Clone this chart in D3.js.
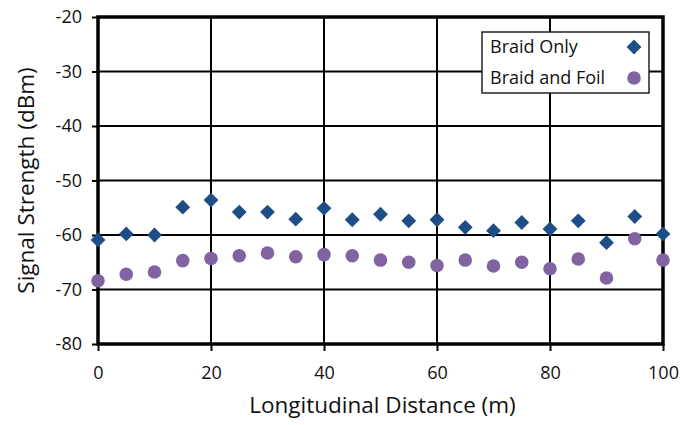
<!DOCTYPE html>
<html>
<head>
<meta charset="utf-8">
<script src="https://cdn.jsdelivr.net/npm/d3@7"></script>
<style>
  body { margin: 0; background: #fff; }
  svg { display: block; font-family: "Open Sans", "Liberation Sans", sans-serif; }
</style>
</head>
<body>
<div id="chart"></div>
<script>
// distances along the cable (m)
const distance = [0, 5, 10, 15, 20, 25, 30, 35, 40, 45, 50, 55, 60, 65, 70, 75, 80, 85, 90, 95, 100];
const braidOnly = [-60.9, -59.8, -60.0, -54.9, -53.6, -55.8, -55.8, -57.1, -55.1, -57.2, -56.2,
                   -57.4, -57.2, -58.6, -59.2, -57.7, -58.9, -57.4, -61.4, -56.6, -59.8];
const braidFoil = [-68.4, -67.2, -66.8, -64.7, -64.3, -63.8, -63.3, -64.0, -63.6, -63.8, -64.6,
                   -65.0, -65.6, -64.6, -65.7, -65.0, -66.2, -64.4, -67.9, -60.7, -64.6];
const xTicks = [0, 20, 40, 60, 80, 100];
const yTicks = [-80, -70, -60, -50, -40, -30, -20];
const seriesNames = ['Braid Only', 'Braid and Foil'];

const width = 696, height = 425;
const margin = {top: 17, right: 33, bottom: 81, left: 98};
const colors = {blue: '#1f4e86', purple: '#8064a2'};
const ink = '#111';

const svg = d3.select('#chart').append('svg')
    .attr('width', width)
    .attr('height', height);

// the picture is cut just past the last tick label
svg.append('clipPath').attr('id', 'cut')
    .append('rect').attr('x', 0).attr('y', 0).attr('width', 679).attr('height', height);

const root = svg.append('g').attr('clip-path', 'url(#cut)');

const x = d3.scaleLinear().domain([0, 100]).range([margin.left, width - margin.right]);
const y = d3.scaleLinear().domain([-80, -20]).range([height - margin.bottom, margin.top]);

// grid
root.append('g').selectAll('line.v')
    .data(xTicks)
    .join('line')
    .attr('x1', d => x(d)).attr('x2', d => x(d))
    .attr('y1', y(-20)).attr('y2', y(-80))
    .attr('stroke', '#000').attr('stroke-width', 2);

root.append('g').selectAll('line.h')
    .data(yTicks)
    .join('line')
    .attr('x1', x(0)).attr('x2', x(100))
    .attr('y1', d => y(d)).attr('y2', d => y(d))
    .attr('stroke', '#000').attr('stroke-width', 2);

// axes (plain hyphen for the minus, like the original)
const yAxis = root.append('g')
    .attr('transform', `translate(${x(0)},0)`)
    .call(d3.axisLeft(y).tickValues(yTicks).tickFormat(d => String(d)).tickSize(6).tickPadding(10));
const xAxis = root.append('g')
    .attr('transform', `translate(0,${y(-80)})`)
    .call(d3.axisBottom(x).tickValues(xTicks).tickFormat(d => String(d)).tickSize(7).tickPadding(15));

[xAxis, yAxis].forEach(a => {
    a.select('.domain').remove();
    a.selectAll('.tick line').attr('stroke', '#000').attr('stroke-width', 2);
    a.selectAll('.tick text')
        .attr('fill', ink)
        .style('font-size', '18px')
        .style('font-family', '"Open Sans", sans-serif');
});

// plot border
root.append('rect')
    .attr('x', x(0)).attr('y', y(-20))
    .attr('width', x(100) - x(0)).attr('height', y(-80) - y(-20))
    .attr('fill', 'none').attr('stroke', '#000').attr('stroke-width', 3.5);

// markers
const diamond = d3.symbol().type(d3.symbolSquare).size(110);
root.append('g').selectAll('path')
    .data(distance.map((d, i) => ({d, v: braidOnly[i]})))
    .join('path')
    .attr('d', diamond)
    .attr('transform', p => `translate(${x(p.d)},${y(p.v)}) rotate(45)`)
    .attr('fill', colors.blue);

root.append('g').selectAll('circle')
    .data(distance.map((d, i) => ({d, v: braidFoil[i]})))
    .join('circle')
    .attr('cx', p => x(p.d))
    .attr('cy', p => y(p.v))
    .attr('r', 6.8)
    .attr('fill', colors.purple);

// axis titles
root.append('text')
    .attr('x', (x(0) + x(100)) / 2 + 2)
    .attr('y', 413)
    .attr('text-anchor', 'middle')
    .attr('fill', ink)
    .style('font-size', '22.5px')
    .text('Longitudinal Distance (m)');

root.append('text')
    .attr('transform', `translate(34,${(y(-20) + y(-80)) / 2}) rotate(-90)`)
    .attr('text-anchor', 'middle')
    .attr('fill', ink)
    .style('font-size', '22.5px')
    .text('Signal Strength (dBm)');

// legend
const legend = root.append('g');
legend.append('rect')
    .attr('x', 482).attr('y', 32)
    .attr('width', 167).attr('height', 61)
    .attr('fill', '#fff').attr('stroke', '#222').attr('stroke-width', 1.5);

seriesNames.forEach((name, i) => {
    const cy = 47 + i * 31;
    legend.append('text')
        .attr('x', 490).attr('y', cy + 6)
        .attr('fill', ink)
        .style('font-size', '18px')
        .text(name);
    if (i === 0) {
        legend.append('path')
            .attr('d', diamond)
            .attr('transform', `translate(634,${cy}) rotate(45)`)
            .attr('fill', colors.blue);
    } else {
        legend.append('circle')
            .attr('cx', 634).attr('cy', cy)
            .attr('r', 6.8)
            .attr('fill', colors.purple);
    }
});
</script>
</body>
</html>
